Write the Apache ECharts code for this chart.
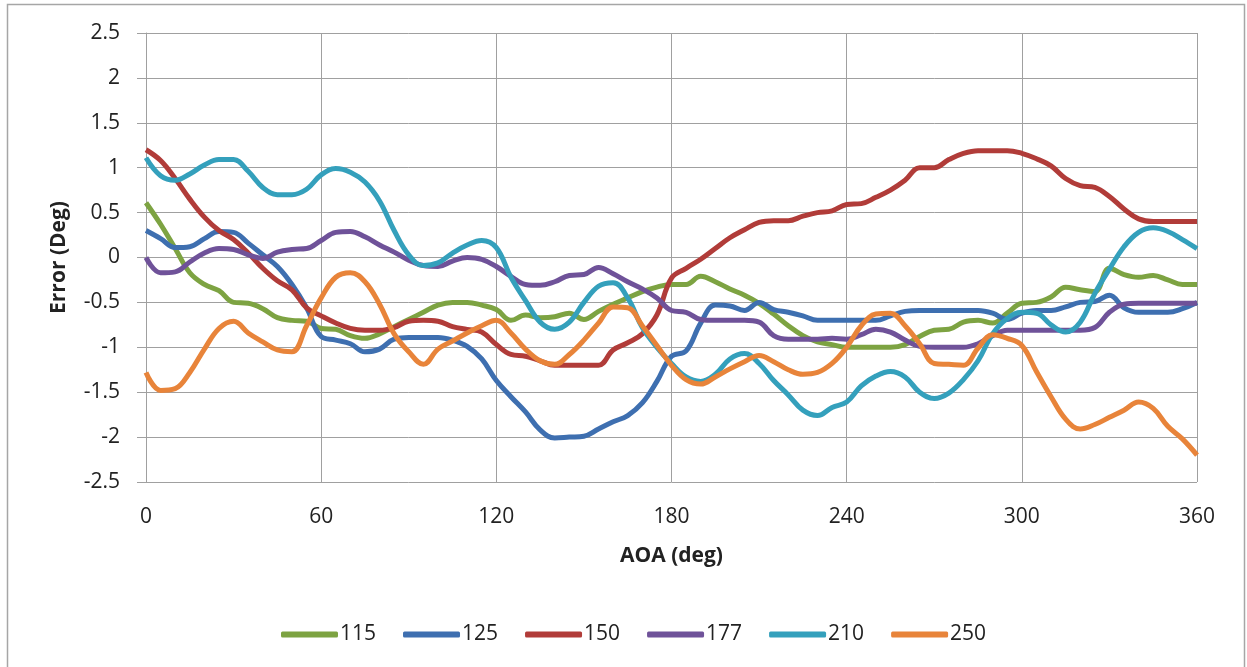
<!DOCTYPE html>
<html>
<head>
<meta charset="utf-8">
<script src="https://cdn.jsdelivr.net/npm/echarts@6/dist/echarts.min.js"></script>
<style>
html,body{margin:0;padding:0;background:#fff;}
#chart{width:1247px;height:667px;}
</style>
</head>
<body>
<div id="chart"></div>
<script>
var angles = [0,5,10,15,20,25,30,35,40,45,50,55,60,65,70,75,80,85,90,95,100,105,110,115,120,125,130,135,140,145,150,155,160,165,170,175,180,185,190,195,200,205,210,215,220,225,230,235,240,245,250,255,260,265,270,275,280,285,290,295,300,305,310,315,320,325,330,335,340,345,350,355,360];

var seriesNames = ['115','125','150','177','210','250'];

var s115 = [0.61,0.37,0.10,-0.17,-0.30,-0.37,-0.50,-0.51,-0.57,-0.67,-0.70,-0.71,-0.79,-0.80,-0.87,-0.90,-0.85,-0.77,-0.69,-0.61,-0.53,-0.50,-0.50,-0.53,-0.58,-0.70,-0.64,-0.67,-0.66,-0.62,-0.69,-0.60,-0.52,-0.45,-0.38,-0.33,-0.30,-0.30,-0.21,-0.27,-0.35,-0.42,-0.51,-0.63,-0.76,-0.87,-0.94,-0.97,-1.00,-1.00,-1.00,-1.00,-0.97,-0.88,-0.81,-0.80,-0.72,-0.70,-0.73,-0.62,-0.51,-0.50,-0.44,-0.33,-0.36,-0.38,-0.12,-0.19,-0.22,-0.20,-0.25,-0.30,-0.30];

var s125 = [0.30,0.21,0.11,0.12,0.21,0.29,0.28,0.16,0.03,-0.10,-0.30,-0.56,-0.88,-0.92,-0.96,-1.05,-1.02,-0.91,-0.89,-0.89,-0.89,-0.92,-0.99,-1.13,-1.37,-1.55,-1.72,-1.92,-2.01,-2.00,-1.99,-1.91,-1.83,-1.76,-1.62,-1.38,-1.10,-1.04,-0.73,-0.53,-0.54,-0.59,-0.50,-0.58,-0.61,-0.65,-0.70,-0.70,-0.70,-0.70,-0.70,-0.65,-0.60,-0.59,-0.59,-0.59,-0.59,-0.59,-0.62,-0.69,-0.62,-0.59,-0.59,-0.55,-0.50,-0.49,-0.42,-0.56,-0.61,-0.61,-0.61,-0.57,-0.50];

var s150 = [1.20,1.08,0.88,0.65,0.45,0.30,0.20,0.05,-0.12,-0.26,-0.36,-0.56,-0.65,-0.73,-0.79,-0.81,-0.81,-0.78,-0.71,-0.70,-0.71,-0.77,-0.80,-0.83,-0.97,-1.08,-1.10,-1.15,-1.20,-1.20,-1.20,-1.20,-1.03,-0.95,-0.85,-0.64,-0.23,-0.12,-0.02,0.10,0.22,0.31,0.39,0.41,0.41,0.46,0.50,0.52,0.59,0.60,0.67,0.75,0.86,1.00,1.00,1.09,1.16,1.19,1.19,1.19,1.16,1.10,1.02,0.88,0.80,0.78,0.68,0.54,0.43,0.40,0.40,0.40,0.40];

var s177 = [0.00,-0.17,-0.16,-0.05,0.05,0.10,0.09,0.03,-0.01,0.06,0.09,0.10,0.19,0.28,0.29,0.23,0.14,0.06,-0.03,-0.09,-0.10,-0.04,0.00,-0.02,-0.10,-0.21,-0.30,-0.31,-0.27,-0.20,-0.19,-0.11,-0.18,-0.27,-0.35,-0.45,-0.59,-0.61,-0.69,-0.70,-0.70,-0.70,-0.72,-0.87,-0.91,-0.91,-0.91,-0.90,-0.91,-0.86,-0.80,-0.83,-0.92,-0.99,-1.00,-1.00,-1.00,-0.96,-0.87,-0.81,-0.81,-0.81,-0.81,-0.81,-0.81,-0.78,-0.61,-0.52,-0.51,-0.51,-0.51,-0.51,-0.51];

var s210 = [1.11,0.91,0.86,0.93,1.03,1.09,1.09,0.96,0.78,0.70,0.70,0.76,0.92,0.99,0.95,0.84,0.63,0.30,0.03,-0.09,-0.06,0.05,0.14,0.19,0.11,-0.22,-0.48,-0.72,-0.80,-0.72,-0.50,-0.32,-0.28,-0.45,-0.78,-1.00,-1.18,-1.33,-1.38,-1.30,-1.13,-1.07,-1.18,-1.37,-1.53,-1.70,-1.76,-1.67,-1.61,-1.43,-1.32,-1.27,-1.33,-1.50,-1.57,-1.51,-1.36,-1.15,-0.85,-0.68,-0.61,-0.62,-0.75,-0.83,-0.72,-0.40,-0.13,0.12,0.28,0.33,0.29,0.20,0.10];

var s250 = [-1.28,-1.48,-1.46,-1.28,-1.02,-0.79,-0.71,-0.84,-0.94,-1.03,-1.05,-0.76,-0.45,-0.22,-0.17,-0.27,-0.52,-0.85,-1.05,-1.19,-1.02,-0.93,-0.84,-0.76,-0.70,-0.84,-1.02,-1.15,-1.19,-1.08,-0.92,-0.73,-0.55,-0.56,-0.76,-0.98,-1.20,-1.36,-1.41,-1.33,-1.24,-1.16,-1.09,-1.16,-1.25,-1.30,-1.28,-1.18,-1.00,-0.76,-0.63,-0.62,-0.76,-0.96,-1.18,-1.19,-1.20,-1.01,-0.86,-0.90,-0.98,-1.27,-1.55,-1.80,-1.91,-1.86,-1.78,-1.70,-1.61,-1.68,-1.88,-2.02,-2.20];

var seriesValues = [s115, s125, s150, s177, s210, s250];
var seriesColors = ['#7DA342','#3E6FB0','#B13C39','#6F5299','#34A0BC','#E8843A'];

var FONT = '"Open Sans", "Liberation Sans", sans-serif';

var chart = echarts.init(document.getElementById('chart'), null, {renderer:'canvas'});

var series = seriesNames.map(function(name, i){
  return {
    name: name,
    type: 'line',
    smooth: 0.4,
    showSymbol: false,
    symbol: 'none',
    data: angles.map(function(a, j){ return [a, seriesValues[i][j]]; }),
    lineStyle: { width: 5, color: seriesColors[i] },
    itemStyle: { color: seriesColors[i] },
    emphasis: { disabled: true },
    animation: false
  };
});

chart.setOption({
  animation: false,
  backgroundColor: '#fff',
  textStyle: { fontFamily: FONT },
  graphic: [{
    type: 'rect',
    shape: { x: 7.5, y: 4.5, width: 1237, height: 720 },
    style: { fill: 'none', stroke: '#A6A6A6', lineWidth: 1.5 },
    silent: true,
    z: -10
  }],
  grid: { left: 146, top: 33, width: 1051, height: 449, containLabel: false },
  legend: {
    data: seriesNames,
    left: 276,
    top: 619,
    itemWidth: 57,
    itemHeight: 6,
    itemGap: 27,
    icon: 'roundRect',
    itemStyle: { borderWidth: 0 },
    textStyle: { fontFamily: FONT, fontSize: 21, color: '#222', padding: [0,0,0,-3] }
  },
  xAxis: {
    type: 'value',
    min: 0, max: 360, interval: 60,
    name: 'AOA (deg)',
    nameLocation: 'middle',
    nameGap: 64,
    nameTextStyle: { fontFamily: FONT, fontSize: 21, fontWeight: 'bold', color: '#222' },
    axisLine: { show: true, lineStyle: { color: '#A0A0A0', width: 1 } },
    axisTick: { show: true, length: 9, inside: false, lineStyle: { color: '#A0A0A0' } },
    axisLabel: { fontFamily: FONT, fontSize: 21, color: '#222', margin: 25 },
    splitLine: { show: true, lineStyle: { color: '#A0A0A0', width: 1 } }
  },
  yAxis: {
    type: 'value',
    min: -2.5, max: 2.5, interval: 0.5,
    name: 'Error (Deg)',
    nameLocation: 'middle',
    nameRotate: 90,
    nameGap: 76,
    nameTextStyle: { fontFamily: FONT, fontSize: 21, fontWeight: 'bold', color: '#222' },
    axisLine: { show: true, lineStyle: { color: '#A0A0A0', width: 1 } },
    axisTick: { show: true, length: 9, inside: false, lineStyle: { color: '#A0A0A0' } },
    axisLabel: { fontFamily: FONT, fontSize: 21, color: '#222', margin: 26 },
    splitLine: { show: true, lineStyle: { color: '#A0A0A0', width: 1 } }
  },
  series: series
});
</script>
</body>
</html>
